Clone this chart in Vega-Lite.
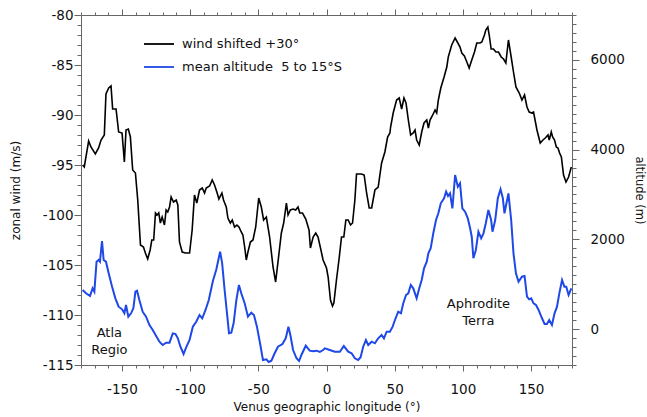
{
  "$schema": "https://vega.github.io/schema/vega-lite/v6.json",
  "width": 491,
  "height": 350,
  "autosize": {"type": "none"},
  "padding": {"left": 81, "top": 15, "right": 75, "bottom": 52},
  "background": "white",
  "config": {
    "view": {"stroke": null},
    "font": "DejaVu Sans",
    "axis": {
      "domainColor": "#666666",
      "tickColor": "#666666",
      "labelColor": "#111111",
      "titleColor": "#111111",
      "labelFont": "DejaVu Sans",
      "titleFont": "DejaVu Sans",
      "labelFontSize": 13.5,
      "titleFontSize": 12,
      "titleFontWeight": "normal",
      "grid": false,
      "labelOverlap": false,
      "labelFlush": false
    }
  },
  "datasets": {
    "wind": [
      {"lon": -178.8, "wind": -95.0}, {"lon": -177.6, "wind": -95.2}, {"lon": -174.4, "wind": -92.6}, {"lon": -172.7, "wind": -93.2}, {"lon": -169.5, "wind": -93.9}, {"lon": -167.1, "wind": -93.3}, {"lon": -165.3, "wind": -92.5}, {"lon": -162.9, "wind": -92.0}, {"lon": -161.7, "wind": -87.9}, {"lon": -159.7, "wind": -87.3}, {"lon": -158.0, "wind": -87.1}, {"lon": -156.8, "wind": -89.4}, {"lon": -154.3, "wind": -89.4}, {"lon": -152.4, "wind": -91.7}, {"lon": -149.9, "wind": -91.8}, {"lon": -148.2, "wind": -94.7}, {"lon": -147.0, "wind": -91.5}, {"lon": -145.3, "wind": -91.4}, {"lon": -143.8, "wind": -92.2}, {"lon": -142.1, "wind": -95.5}, {"lon": -140.1, "wind": -95.8}, {"lon": -138.4, "wind": -98.5}, {"lon": -136.4, "wind": -103.0}, {"lon": -134.2, "wind": -103.2}, {"lon": -132.8, "wind": -103.8}, {"lon": -131.1, "wind": -104.4}, {"lon": -129.3, "wind": -103.5}, {"lon": -128.1, "wind": -102.5}, {"lon": -126.7, "wind": -102.5}, {"lon": -125.4, "wind": -99.8}, {"lon": -124.2, "wind": -100.0}, {"lon": -123.0, "wind": -99.8}, {"lon": -121.8, "wind": -100.8}, {"lon": -120.5, "wind": -100.2}, {"lon": -118.8, "wind": -101.0}, {"lon": -117.6, "wind": -99.5}, {"lon": -116.4, "wind": -99.7}, {"lon": -115.1, "wind": -99.2}, {"lon": -113.9, "wind": -98.2}, {"lon": -112.2, "wind": -98.7}, {"lon": -110.2, "wind": -98.5}, {"lon": -109.0, "wind": -99.0}, {"lon": -107.8, "wind": -102.7}, {"lon": -105.8, "wind": -103.7}, {"lon": -103.4, "wind": -103.8}, {"lon": -100.4, "wind": -103.8}, {"lon": -98.5, "wind": -101.5}, {"lon": -96.8, "wind": -98.0}, {"lon": -95.1, "wind": -98.8}, {"lon": -93.1, "wind": -97.5}, {"lon": -91.1, "wind": -97.3}, {"lon": -89.4, "wind": -97.8}, {"lon": -88.2, "wind": -97.3}, {"lon": -85.7, "wind": -97.1}, {"lon": -83.8, "wind": -96.5}, {"lon": -82.1, "wind": -97.0}, {"lon": -80.4, "wind": -97.7}, {"lon": -78.9, "wind": -98.4}, {"lon": -76.7, "wind": -97.8}, {"lon": -75.5, "wind": -98.5}, {"lon": -73.5, "wind": -99.2}, {"lon": -72.3, "wind": -100.3}, {"lon": -70.5, "wind": -100.8}, {"lon": -69.1, "wind": -100.5}, {"lon": -67.4, "wind": -101.2}, {"lon": -65.7, "wind": -101.0}, {"lon": -64.2, "wind": -101.2}, {"lon": -62.5, "wind": -101.7}, {"lon": -61.3, "wind": -102.0}, {"lon": -60.0, "wind": -103.2}, {"lon": -58.8, "wind": -104.5}, {"lon": -57.6, "wind": -103.7}, {"lon": -55.8, "wind": -102.7}, {"lon": -53.9, "wind": -102.5}, {"lon": -51.9, "wind": -101.2}, {"lon": -49.7, "wind": -98.3}, {"lon": -47.8, "wind": -99.2}, {"lon": -46.1, "wind": -100.5}, {"lon": -44.1, "wind": -100.2}, {"lon": -41.7, "wind": -102.2}, {"lon": -39.2, "wind": -105.2}, {"lon": -37.3, "wind": -106.7}, {"lon": -34.8, "wind": -103.8}, {"lon": -33.1, "wind": -101.8}, {"lon": -31.4, "wind": -100.8}, {"lon": -29.4, "wind": -98.8}, {"lon": -28.2, "wind": -100.0}, {"lon": -26.5, "wind": -99.5}, {"lon": -24.5, "wind": -99.4}, {"lon": -22.6, "wind": -99.5}, {"lon": -20.9, "wind": -99.2}, {"lon": -19.6, "wind": -99.8}, {"lon": -17.6, "wind": -99.8}, {"lon": -15.2, "wind": -100.4}, {"lon": -12.8, "wind": -101.5}, {"lon": -11.8, "wind": -103.3}, {"lon": -9.8, "wind": -102.2}, {"lon": -7.9, "wind": -101.8}, {"lon": -6.2, "wind": -102.2}, {"lon": -4.4, "wind": -103.3}, {"lon": -2.5, "wind": -104.5}, {"lon": 0.0, "wind": -105.3}, {"lon": 1.2, "wind": -106.2}, {"lon": 2.9, "wind": -108.5}, {"lon": 4.4, "wind": -109.1}, {"lon": 5.4, "wind": -108.8}, {"lon": 7.3, "wind": -106.5}, {"lon": 9.3, "wind": -104.3}, {"lon": 11.0, "wind": -102.2}, {"lon": 12.7, "wind": -102.2}, {"lon": 14.2, "wind": -100.5}, {"lon": 15.9, "wind": -100.5}, {"lon": 17.6, "wind": -101.0}, {"lon": 19.1, "wind": -100.8}, {"lon": 20.8, "wind": -98.5}, {"lon": 22.0, "wind": -95.9}, {"lon": 25.7, "wind": -95.9}, {"lon": 27.6, "wind": -96.0}, {"lon": 29.4, "wind": -97.8}, {"lon": 31.3, "wind": -99.3}, {"lon": 33.1, "wind": -99.3}, {"lon": 35.5, "wind": -97.5}, {"lon": 37.9, "wind": -97.2}, {"lon": 40.4, "wind": -94.8}, {"lon": 42.8, "wind": -93.7}, {"lon": 44.8, "wind": -92.2}, {"lon": 46.5, "wind": -91.8}, {"lon": 47.0, "wind": -91.2}, {"lon": 48.9, "wind": -89.8}, {"lon": 51.4, "wind": -88.5}, {"lon": 53.3, "wind": -88.3}, {"lon": 55.1, "wind": -89.4}, {"lon": 56.8, "wind": -88.3}, {"lon": 58.3, "wind": -88.8}, {"lon": 60.0, "wind": -90.5}, {"lon": 61.7, "wind": -92.0}, {"lon": 63.6, "wind": -91.8}, {"lon": 64.9, "wind": -91.5}, {"lon": 66.1, "wind": -92.5}, {"lon": 68.0, "wind": -93.0}, {"lon": 69.8, "wind": -91.7}, {"lon": 71.5, "wind": -90.8}, {"lon": 73.5, "wind": -90.5}, {"lon": 74.7, "wind": -91.3}, {"lon": 75.9, "wind": -90.5}, {"lon": 77.9, "wind": -90.0}, {"lon": 79.6, "wind": -89.5}, {"lon": 80.8, "wind": -89.8}, {"lon": 82.0, "wind": -88.5}, {"lon": 83.8, "wind": -87.3}, {"lon": 86.2, "wind": -86.2}, {"lon": 88.2, "wind": -85.2}, {"lon": 89.3, "wind": -84.2}, {"lon": 91.8, "wind": -83.0}, {"lon": 94.3, "wind": -82.3}, {"lon": 96.3, "wind": -82.8}, {"lon": 97.9, "wind": -83.2}, {"lon": 99.2, "wind": -83.8}, {"lon": 101.1, "wind": -84.1}, {"lon": 102.9, "wind": -84.7}, {"lon": 104.6, "wind": -85.3}, {"lon": 106.5, "wind": -84.5}, {"lon": 108.5, "wind": -83.7}, {"lon": 110.2, "wind": -82.8}, {"lon": 112.6, "wind": -82.8}, {"lon": 113.9, "wind": -82.7}, {"lon": 115.8, "wind": -82.0}, {"lon": 116.8, "wind": -81.5}, {"lon": 118.3, "wind": -81.2}, {"lon": 119.3, "wind": -82.0}, {"lon": 120.7, "wind": -83.4}, {"lon": 122.4, "wind": -83.4}, {"lon": 124.2, "wind": -83.7}, {"lon": 126.1, "wind": -83.7}, {"lon": 128.1, "wind": -84.2}, {"lon": 129.8, "wind": -84.4}, {"lon": 131.5, "wind": -84.8}, {"lon": 133.4, "wind": -82.5}, {"lon": 135.4, "wind": -84.2}, {"lon": 137.1, "wind": -85.7}, {"lon": 138.9, "wind": -87.2}, {"lon": 141.3, "wind": -87.8}, {"lon": 143.3, "wind": -88.5}, {"lon": 145.2, "wind": -88.0}, {"lon": 147.0, "wind": -89.2}, {"lon": 148.6, "wind": -89.7}, {"lon": 150.6, "wind": -89.8}, {"lon": 151.8, "wind": -89.7}, {"lon": 154.3, "wind": -91.5}, {"lon": 156.7, "wind": -92.8}, {"lon": 158.7, "wind": -92.5}, {"lon": 160.4, "wind": -92.3}, {"lon": 162.4, "wind": -92.0}, {"lon": 163.3, "wind": -92.5}, {"lon": 164.8, "wind": -91.7}, {"lon": 165.8, "wind": -92.2}, {"lon": 167.2, "wind": -92.5}, {"lon": 168.5, "wind": -93.2}, {"lon": 169.7, "wind": -93.3}, {"lon": 170.9, "wind": -93.8}, {"lon": 172.2, "wind": -94.2}, {"lon": 173.8, "wind": -96.0}, {"lon": 175.6, "wind": -96.7}, {"lon": 177.5, "wind": -96.2}, {"lon": 179.5, "wind": -95.2}
    ],
    "alt": [
      {"lon": -178.8, "alt": 871}, {"lon": -176.3, "alt": 798}, {"lon": -173.4, "alt": 738}, {"lon": -171.5, "alt": 909}, {"lon": -170.2, "alt": 834}, {"lon": -168.6, "alt": 1502}, {"lon": -167.1, "alt": 1540}, {"lon": -166.1, "alt": 1502}, {"lon": -164.6, "alt": 1963}, {"lon": -163.4, "alt": 1540}, {"lon": -161.7, "alt": 1502}, {"lon": -159.7, "alt": 1244}, {"lon": -157.2, "alt": 945}, {"lon": -154.8, "alt": 686}, {"lon": -152.4, "alt": 499}, {"lon": -149.9, "alt": 441}, {"lon": -148.2, "alt": 352}, {"lon": -147.0, "alt": 537}, {"lon": -145.3, "alt": 276}, {"lon": -143.3, "alt": 352}, {"lon": -141.6, "alt": 464}, {"lon": -140.1, "alt": 834}, {"lon": -138.9, "alt": 856}, {"lon": -137.2, "alt": 648}, {"lon": -134.8, "alt": 388}, {"lon": -132.3, "alt": 276}, {"lon": -129.8, "alt": 91}, {"lon": -127.4, "alt": -20}, {"lon": -124.9, "alt": -154}, {"lon": -122.5, "alt": -281}, {"lon": -120.1, "alt": -354}, {"lon": -117.6, "alt": -303}, {"lon": -115.1, "alt": -303}, {"lon": -112.7, "alt": -94}, {"lon": -110.7, "alt": -109}, {"lon": -109.0, "alt": -205}, {"lon": -107.1, "alt": -392}, {"lon": -104.8, "alt": -555}, {"lon": -102.9, "alt": -406}, {"lon": -100.4, "alt": -243}, {"lon": -98.0, "alt": 54}, {"lon": -95.5, "alt": 165}, {"lon": -93.1, "alt": 314}, {"lon": -91.1, "alt": 241}, {"lon": -88.7, "alt": 426}, {"lon": -86.3, "alt": 648}, {"lon": -83.3, "alt": 1070}, {"lon": -80.8, "alt": 1330}, {"lon": -78.0, "alt": 1725}, {"lon": -76.5, "alt": 1466}, {"lon": -74.7, "alt": 871}, {"lon": -72.7, "alt": 276}, {"lon": -71.5, "alt": -94}, {"lon": -69.8, "alt": -80}, {"lon": -68.1, "alt": 129}, {"lon": -66.1, "alt": 648}, {"lon": -64.2, "alt": 983}, {"lon": -62.5, "alt": 798}, {"lon": -60.0, "alt": 575}, {"lon": -57.6, "alt": 276}, {"lon": -55.1, "alt": 365}, {"lon": -53.2, "alt": 314}, {"lon": -51.0, "alt": 54}, {"lon": -48.5, "alt": -354}, {"lon": -46.6, "alt": -689}, {"lon": -44.1, "alt": -673}, {"lon": -42.4, "alt": -733}, {"lon": -40.4, "alt": -704}, {"lon": -38.0, "alt": -539}, {"lon": -35.6, "alt": -392}, {"lon": -32.3, "alt": -332}, {"lon": -29.9, "alt": -205}, {"lon": -27.9, "alt": 54}, {"lon": -26.5, "alt": -131}, {"lon": -24.5, "alt": -466}, {"lon": -22.0, "alt": -651}, {"lon": -20.1, "alt": -711}, {"lon": -18.4, "alt": -577}, {"lon": -15.2, "alt": -370}, {"lon": -12.3, "alt": -481}, {"lon": -9.8, "alt": -495}, {"lon": -7.3, "alt": -481}, {"lon": -4.9, "alt": -510}, {"lon": -2.5, "alt": -466}, {"lon": -1.2, "alt": -428}, {"lon": 2.4, "alt": -466}, {"lon": 6.1, "alt": -504}, {"lon": 9.8, "alt": -504}, {"lon": 12.7, "alt": -377}, {"lon": 15.9, "alt": -504}, {"lon": 18.4, "alt": -539}, {"lon": 20.8, "alt": -651}, {"lon": 23.2, "alt": -689}, {"lon": 25.0, "alt": -628}, {"lon": 26.9, "alt": -392}, {"lon": 28.9, "alt": -243}, {"lon": 30.6, "alt": -354}, {"lon": 33.1, "alt": -281}, {"lon": 35.5, "alt": -316}, {"lon": 37.9, "alt": -205}, {"lon": 40.4, "alt": -131}, {"lon": 42.1, "alt": -205}, {"lon": 44.1, "alt": -57}, {"lon": 46.5, "alt": -57}, {"lon": 48.5, "alt": 54}, {"lon": 50.2, "alt": 203}, {"lon": 52.6, "alt": 388}, {"lon": 54.6, "alt": 352}, {"lon": 56.3, "alt": 575}, {"lon": 58.3, "alt": 760}, {"lon": 60.0, "alt": 798}, {"lon": 61.8, "alt": 983}, {"lon": 63.6, "alt": 909}, {"lon": 66.1, "alt": 686}, {"lon": 68.0, "alt": 909}, {"lon": 69.8, "alt": 1094}, {"lon": 71.5, "alt": 1355}, {"lon": 73.5, "alt": 1502}, {"lon": 74.7, "alt": 1689}, {"lon": 76.4, "alt": 1801}, {"lon": 78.3, "alt": 2135}, {"lon": 80.3, "alt": 2431}, {"lon": 82.0, "alt": 2581}, {"lon": 83.8, "alt": 2804}, {"lon": 86.2, "alt": 2915}, {"lon": 87.7, "alt": 3062}, {"lon": 89.1, "alt": 2966}, {"lon": 90.6, "alt": 3026}, {"lon": 92.3, "alt": 2692}, {"lon": 94.3, "alt": 3434}, {"lon": 96.3, "alt": 3174}, {"lon": 97.9, "alt": 3249}, {"lon": 99.6, "alt": 2692}, {"lon": 101.6, "alt": 2616}, {"lon": 103.6, "alt": 2469}, {"lon": 105.3, "alt": 2246}, {"lon": 106.5, "alt": 2059}, {"lon": 107.7, "alt": 1578}, {"lon": 109.5, "alt": 1763}, {"lon": 111.4, "alt": 2171}, {"lon": 113.4, "alt": 2024}, {"lon": 115.1, "alt": 2135}, {"lon": 116.8, "alt": 2358}, {"lon": 118.7, "alt": 2654}, {"lon": 120.7, "alt": 2431}, {"lon": 121.7, "alt": 2171}, {"lon": 123.7, "alt": 2431}, {"lon": 125.6, "alt": 2915}, {"lon": 127.6, "alt": 3116}, {"lon": 129.3, "alt": 2915}, {"lon": 130.5, "alt": 2581}, {"lon": 131.7, "alt": 2766}, {"lon": 133.4, "alt": 3026}, {"lon": 135.4, "alt": 2431}, {"lon": 137.1, "alt": 1689}, {"lon": 138.9, "alt": 1244}, {"lon": 140.8, "alt": 1056}, {"lon": 143.3, "alt": 1168}, {"lon": 145.2, "alt": 1184}, {"lon": 147.0, "alt": 722}, {"lon": 148.6, "alt": 664}, {"lon": 150.1, "alt": 686}, {"lon": 151.8, "alt": 575}, {"lon": 153.6, "alt": 537}, {"lon": 155.5, "alt": 426}, {"lon": 158.0, "alt": 241}, {"lon": 159.9, "alt": 114}, {"lon": 161.6, "alt": 114}, {"lon": 163.3, "alt": 203}, {"lon": 165.3, "alt": 91}, {"lon": 167.2, "alt": 352}, {"lon": 169.0, "alt": 499}, {"lon": 170.7, "alt": 797}, {"lon": 172.7, "alt": 1094}, {"lon": 174.4, "alt": 945}, {"lon": 175.8, "alt": 945}, {"lon": 177.5, "alt": 760}, {"lon": 179.5, "alt": 909}
    ],
    "labels": [
      {"lon": -159.2, "wind": -111.8, "label": "Atla\nRegio"},
      {"lon": 111.4, "wind": -108.9, "label": "Aphrodite\nTerra"}
    ]
  },
  "layer": [
    {
      "layer": [
        {
          "data": {"name": "wind"},
          "mark": {"type": "line", "strokeWidth": 1.6},
          "encoding": {
            "x": {
              "field": "lon", "type": "quantitative",
              "title": "Venus geographic longitude (°)",
              "scale": {"domain": [-180, 180], "nice": false, "zero": false},
              "axis": {
                "orient": "bottom",
                "values": [-180,-170,-160,-150,-140,-130,-120,-110,-100,-90,-80,-70,-60,-50,-40,-30,-20,-10,0,10,20,30,40,50,60,70,80,90,100,110,120,130,140,150,160,170,180],
                "labelExpr": "datum.value % 50 === 0 && abs(datum.value) < 180 ? '' + datum.value : ''",
                "labelOverlap": false,
                "tickSize": {"condition": {"test": "datum.value % 50 === 0", "value": 6}, "value": 3},
                "labelPadding": 11,
                "titlePadding": 6
              }
            },
            "y": {
              "field": "wind", "type": "quantitative",
              "title": "zonal wind (m/s)",
              "scale": {"domain": [-115, -80], "nice": false, "zero": false},
              "axis": {
                "values": [-115,-114,-113,-112,-111,-110,-109,-108,-107,-106,-105,-104,-103,-102,-101,-100,-99,-98,-97,-96,-95,-94,-93,-92,-91,-90,-89,-88,-87,-86,-85,-84,-83,-82,-81,-80],
                "labelExpr": "datum.value % 5 === 0 ? '' + datum.value : ''",
                "labelOverlap": false,
                "tickSize": {"condition": {"test": "datum.value % 5 === 0", "value": 7}, "value": 4},
                "labelPadding": 1,
                "titlePadding": 20
              }
            },
            "color": {
              "datum": "wind shifted +30°", "type": "nominal",
              "scale": {"domain": ["wind shifted +30°", "mean altitude \u00a05 to 15°S"], "range": ["#000000", "#1f48e8"]},
              "legend": {
                "orient": "none", "legendX": 62, "legendY": 13, "title": null,
                "symbolType": "stroke", "symbolSize": 900, "symbolStrokeWidth": 1.8,
                "labelFontSize": 13, "labelFont": "DejaVu Sans", "labelColor": "#111111",
                "labelLimit": 400,
                "labelOffset": 7, "rowPadding": -20, "padding": 0
              }
            }
          }
        },
        {
          "data": {"name": "labels"},
          "mark": {"type": "text", "fontSize": 13, "font": "DejaVu Sans", "lineBreak": "\n", "lineHeight": 17, "color": "#111111", "align": "center", "baseline": "middle"},
          "encoding": {
            "x": {
              "field": "lon", "type": "quantitative",
              "title": "Venus geographic longitude (°)",
              "axis": {
                "orient": "bottom",
                "values": [-180,-170,-160,-150,-140,-130,-120,-110,-100,-90,-80,-70,-60,-50,-40,-30,-20,-10,0,10,20,30,40,50,60,70,80,90,100,110,120,130,140,150,160,170,180],
                "labelExpr": "datum.value % 50 === 0 && abs(datum.value) < 180 ? '' + datum.value : ''",
                "labelOverlap": false,
                "tickSize": {"condition": {"test": "datum.value % 50 === 0", "value": 6}, "value": 3},
                "labelPadding": 11,
                "titlePadding": 6
              }
            },
            "y": {
              "field": "wind", "type": "quantitative",
              "title": "zonal wind (m/s)",
              "axis": {
                "values": [-115,-114,-113,-112,-111,-110,-109,-108,-107,-106,-105,-104,-103,-102,-101,-100,-99,-98,-97,-96,-95,-94,-93,-92,-91,-90,-89,-88,-87,-86,-85,-84,-83,-82,-81,-80],
                "labelExpr": "datum.value % 5 === 0 ? '' + datum.value : ''",
                "labelOverlap": false,
                "tickSize": {"condition": {"test": "datum.value % 5 === 0", "value": 7}, "value": 4},
                "labelPadding": 1,
                "titlePadding": 20
              }
            },
            "text": {"field": "label"}
          }
        }
      ]
    },
    {
      "data": {"name": "alt"},
      "mark": {"type": "line", "strokeWidth": 2},
      "encoding": {
        "x": {
          "field": "lon", "type": "quantitative",
          "axis": {
            "orient": "top", "title": null, "labels": false,
            "values": [-180,-170,-160,-150,-140,-130,-120,-110,-100,-90,-80,-70,-60,-50,-40,-30,-20,-10,0,10,20,30,40,50,60,70,80,90,100,110,120,130,140,150,160,170,180],
            "tickSize": {"condition": {"test": "datum.value % 50 === 0", "value": 6}, "value": 3}
          }
        },
        "y": {
          "field": "alt", "type": "quantitative",
          "title": "altitude (m)",
          "scale": {"domain": [-800, 7000], "nice": false, "zero": false},
          "axis": {
            "orient": "right",
            "values": [-800,-600,-400,-200,0,200,400,600,800,1000,1200,1400,1600,1800,2000,2200,2400,2600,2800,3000,3200,3400,3600,3800,4000,4200,4400,4600,4800,5000,5200,5400,5600,5800,6000,6200,6400,6600,6800,7000],
            "labelExpr": "datum.value % 2000 === 0 ? '' + datum.value : ''",
            "labelOverlap": false,
            "tickSize": {"condition": {"test": "datum.value % 2000 === 0", "value": 7}, "value": 4},
            "labelPadding": 11,
            "titlePadding": 9,
            "titleFontSize": 11.5
          }
        },
        "color": {"datum": "mean altitude \u00a05 to 15°S", "type": "nominal"}
      }
    }
  ],
  "resolve": {"scale": {"y": "independent"}, "axis": {"x": "independent"}}
}
